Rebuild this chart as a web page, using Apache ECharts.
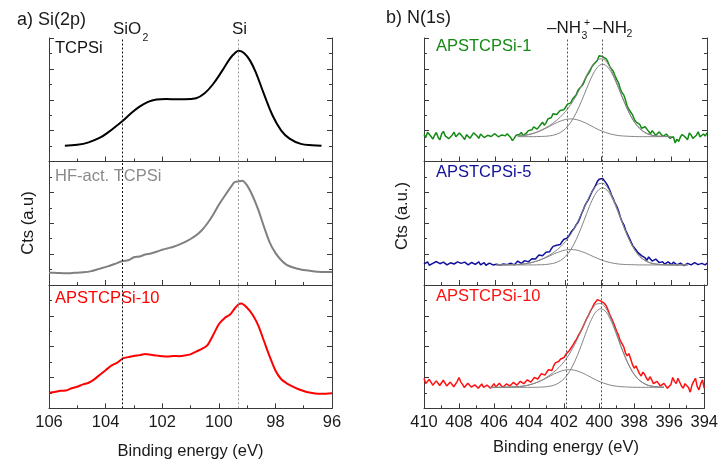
<!DOCTYPE html>
<html>
<head>
<meta charset="utf-8">
<script src="https://cdn.jsdelivr.net/npm/echarts@6/dist/echarts.min.js"></script>
<style>html,body{margin:0;padding:0;background:#fff;}#c{width:721px;height:461px;}</style>
</head>
<body>
<div id="c"></div>
<script>
// ---------- Si(2p) panel (left), counts in arbitrary units ----------
const siTcpsiEnergy = [105.44,105.0,104.6,104.2,103.9,103.6,103.39,103.1,102.8,102.5,102.2,101.85,101.5,101.2,100.8,100.5,100.2,99.9,99.6,99.4,99.29,99.1,98.9,98.7,98.4,98.1,97.8,97.5,97.1,96.7,96.37];
const siTcpsiCounts = [1.02,1.08,1.24,1.54,1.90,2.33,2.64,3.12,3.55,3.86,4.01,4.05,4.03,4.03,4.10,4.42,5.02,5.82,6.68,7.08,7.18,7.02,6.55,5.80,4.35,2.98,2.02,1.48,1.14,1.05,1.02];

const siHfEnergy = [106.0,105.7,105.4,105.1,104.8,104.5,104.2,103.9,103.6,103.39,103.2,103.0,102.8,102.6,102.4,102.2,102.0,101.8,101.6,101.4,101.2,101.0,100.8,100.6,100.4,100.2,100.0,99.8,99.6,99.45,99.3,99.17,99.0,98.8,98.6,98.4,98.2,98.0,97.8,97.6,97.4,97.1,96.8,96.5,96.2,96.0];
const siHfCounts = [0.80,0.78,0.76,0.79,0.82,0.90,1.06,1.22,1.42,1.55,1.60,1.80,1.85,1.97,2.04,2.15,2.28,2.38,2.48,2.62,2.78,2.98,3.22,3.55,4.00,4.55,5.20,5.75,6.28,6.66,6.72,6.76,6.45,5.75,4.85,3.75,2.75,2.08,1.62,1.30,1.15,1.01,0.93,0.86,0.84,0.84];

const siAp10Energy = [106.0,105.8,105.6,105.4,105.2,105.0,104.8,104.6,104.4,104.2,104.0,103.8,103.6,103.39,103.2,103.0,102.8,102.6,102.4,102.2,102.0,101.8,101.6,101.4,101.2,101.0,100.8,100.6,100.4,100.2,100.0,99.8,99.6,99.45,99.3,99.2,99.0,98.8,98.6,98.4,98.2,98.0,97.8,97.6,97.4,97.2,97.0,96.8,96.6,96.4,96.2,96.0];
const siAp10Counts = [1.01,1.06,1.14,1.15,1.30,1.40,1.55,1.66,1.88,2.18,2.47,2.77,2.95,3.24,3.32,3.40,3.45,3.52,3.47,3.42,3.38,3.36,3.40,3.38,3.42,3.50,3.68,3.85,4.10,4.75,5.45,5.85,6.08,6.45,6.75,6.80,6.52,6.05,5.35,4.35,3.35,2.45,1.90,1.62,1.42,1.25,1.12,1.02,0.96,0.94,0.94,0.97];

const siRefLines = [103.4, 99.3];   // SiO2, Si
const siLabels = ['TCPSi', 'HF-act. TCPSi', 'APSTCPSi-10'];

// ---------- N(1s) panel (right) ----------
const nDataStart = 410.0, nDataStep = -0.1;   // measured spectra sampled every 0.1 eV (410 -> 394)
const n1Counts = [
1.75,1.55,1.90,1.95,1.62,1.45,1.70,1.88,1.55,1.40,
1.80,1.95,1.66,1.70,1.48,1.40,1.72,1.90,1.60,1.52,
1.85,1.92,1.58,1.42,1.74,1.82,1.50,1.60,1.86,1.98,
1.65,1.50,1.78,1.88,1.55,1.45,1.70,1.80,1.62,1.55,
1.80,1.90,1.60,1.48,1.72,1.62,1.66,1.80,1.74,1.55,
1.35,1.50,1.70,1.62,1.75,1.88,1.68,1.60,1.85,2.00,
1.95,2.05,2.25,2.30,2.10,2.20,2.40,2.55,2.35,2.50,
2.75,2.70,2.85,3.10,3.20,3.05,3.05,3.30,3.40,3.35,
3.50,3.70,3.65,3.80,4.05,4.15,4.30,4.60,4.75,4.80,
5.00,5.30,5.55,5.70,5.90,6.15,6.30,6.35,6.55,6.85,
6.95,6.80,6.70,6.65,6.45,6.15,6.00,5.85,5.55,5.30,
5.10,4.70,4.45,4.30,3.95,3.55,3.35,3.25,3.00,2.70,
2.55,2.60,2.40,2.15,2.05,2.25,2.15,1.95,1.80,2.00,
1.90,1.70,1.65,1.92,1.80,1.62,1.55,1.78,1.70,1.50,
1.45,1.60,1.20,1.45,1.30,1.60,1.75,1.85,1.55,1.40,
1.85,1.72,1.50,1.58,1.70,1.92,1.60,1.48,1.78,1.65,
1.85];
const n5Counts = [
1.35,1.45,1.50,1.28,1.30,1.40,1.42,1.52,1.55,1.38,
1.32,1.48,1.45,1.30,1.28,1.44,1.50,1.36,1.38,1.50,
1.56,1.40,1.30,1.48,1.44,1.30,1.35,1.46,1.52,1.34,
1.40,1.50,1.30,1.36,1.45,1.28,1.33,1.42,1.38,1.30,
1.30,1.34,1.32,1.30,1.28,1.36,1.40,1.32,1.35,1.42,
1.45,1.30,1.38,1.55,1.52,1.40,1.42,1.58,1.60,1.50,
1.55,1.70,1.75,1.68,1.80,1.95,2.00,1.90,1.95,2.12,
2.20,2.15,2.35,2.50,2.45,2.58,2.70,2.62,2.80,2.95,
3.00,3.05,3.20,3.40,3.55,3.68,3.90,4.05,4.30,4.60,
4.85,5.15,5.35,5.55,5.80,6.05,6.25,6.45,6.70,6.85,
6.75,6.90,6.80,6.60,6.40,6.15,5.85,5.60,5.30,5.10,
4.80,4.40,4.10,3.90,3.55,3.30,3.05,2.80,2.55,2.45,
2.25,2.10,2.05,1.90,1.85,1.75,1.60,1.82,1.70,1.55,
1.50,1.68,1.60,1.45,1.42,1.50,1.35,1.30,1.50,1.40,
1.32,1.48,1.45,1.30,1.30,1.42,1.38,1.25,1.28,1.40,
1.42,1.30,1.30,1.45,1.45,1.32,1.25,1.40,1.38,1.30,
1.42];
const n10Counts = [
1.95,1.60,1.70,1.88,1.80,1.50,1.55,1.78,1.75,1.48,
1.60,1.82,1.72,1.45,1.50,1.70,1.68,1.40,1.45,1.75,
2.00,1.70,1.55,1.35,1.40,1.62,1.60,1.38,1.30,1.52,
1.55,1.30,1.45,1.58,1.35,1.25,1.50,1.62,1.30,1.42,
1.60,1.38,1.45,1.62,1.55,1.35,1.40,1.58,1.60,1.45,
1.50,1.68,1.72,1.50,1.55,1.75,1.80,1.60,1.65,1.85,
1.90,1.70,1.80,2.00,2.05,1.90,2.00,2.25,2.30,2.15,
2.25,2.50,2.60,2.45,2.75,2.95,2.85,3.05,3.20,3.10,
3.30,3.50,3.60,3.75,3.85,4.10,4.30,4.45,4.70,4.90,
5.10,5.35,5.60,5.85,6.05,6.30,6.50,6.75,6.85,7.05,
7.10,6.95,6.90,6.80,6.65,6.40,6.10,5.85,5.60,5.30,
5.00,4.75,4.40,4.30,4.00,3.60,3.40,3.55,3.20,2.85,
2.60,2.75,2.50,2.25,2.10,2.35,2.20,1.95,1.80,2.05,
1.85,1.60,1.55,1.75,1.65,1.45,1.40,1.62,1.50,1.30,
1.20,1.55,2.00,1.75,1.60,1.95,1.85,1.45,1.30,1.60,
1.70,1.35,1.05,1.50,1.75,1.95,1.40,1.20,1.60,1.85,
1.30];

// peak-fit components (gaussian components on a flat background), sampled every 0.3 eV
const nFitStep = -0.3;
const n1FitStart = 404.7;
const n1FitMain  = [1.61,1.61,1.61,1.61,1.62,1.63,1.66,1.73,1.87,2.13,2.54,3.14,3.90,4.74,5.53,6.10,6.31,6.10,5.53,4.74,3.90,3.14,2.54,2.13,1.87,1.73,1.66,1.63,1.62,1.61];
const n1FitMinor = [1.65,1.68,1.74,1.83,1.95,2.10,2.28,2.46,2.61,2.72,2.76,2.72,2.61,2.46,2.28,2.10,1.95,1.83,1.74,1.68,1.65,1.63,1.62,1.61,1.61,1.61,1.61,1.61,1.61,1.61];
const n1FitSum   = [1.65,1.68,1.74,1.83,1.96,2.13,2.33,2.58,2.87,3.24,3.69,4.25,4.90,5.59,6.19,6.59,6.65,6.32,5.66,4.81,3.93,3.16,2.55,2.14,1.87,1.73,1.66,1.63,1.62,1.61];
const n5FitStart = 405.9;
const n5FitMain  = [1.30,1.30,1.30,1.30,1.30,1.30,1.30,1.30,1.31,1.32,1.36,1.43,1.58,1.85,2.29,2.93,3.74,4.64,5.48,6.08,6.30,6.08,5.48,4.64,3.74,2.93,2.29,1.85,1.58,1.43,1.36,1.32,1.31,1.30,1.30,1.30,1.30];
const n5FitMinor = [1.30,1.30,1.31,1.32,1.33,1.36,1.41,1.49,1.59,1.73,1.88,2.04,2.17,2.27,2.30,2.27,2.17,2.04,1.88,1.73,1.59,1.49,1.41,1.36,1.33,1.32,1.31,1.30,1.30,1.30,1.30,1.30,1.30,1.30,1.30,1.30,1.30];
const n5FitSum   = [1.30,1.30,1.31,1.32,1.33,1.36,1.41,1.49,1.60,1.75,1.94,2.17,2.45,2.82,3.29,3.89,4.61,5.37,6.06,6.51,6.59,6.27,5.59,4.70,3.77,2.94,2.30,1.85,1.58,1.43,1.36,1.32,1.31,1.30,1.30,1.30,1.30];
const n10FitStart = 406.2;
const n10FitMain  = [1.36,1.36,1.36,1.36,1.36,1.36,1.36,1.36,1.36,1.37,1.38,1.42,1.49,1.65,1.92,2.37,3.02,3.84,4.76,5.62,6.24,6.46,6.24,5.62,4.76,3.84,3.02,2.37,1.92,1.65,1.49,1.42,1.38,1.37];
const n10FitMinor = [1.36,1.36,1.36,1.37,1.38,1.40,1.43,1.49,1.58,1.70,1.85,2.03,2.21,2.36,2.47,2.51,2.47,2.36,2.21,2.03,1.85,1.70,1.58,1.49,1.43,1.40,1.38,1.37,1.36,1.36,1.36,1.36,1.36,1.36];
const n10FitSum   = [1.36,1.36,1.36,1.37,1.38,1.40,1.43,1.49,1.58,1.71,1.87,2.09,2.34,2.65,3.03,3.52,4.13,4.84,5.61,6.29,6.73,6.80,6.46,5.75,4.83,3.88,3.04,2.38,1.92,1.65,1.49,1.42,1.38,1.37];

const nRefLines = [401.9, 399.9];  // -NH3+, -NH2
const nLabels = ['APSTCPSi-1', 'APSTCPSi-5', 'APSTCPSi-10'];

// ---------- build ----------
const FONT = '"Liberation Sans", Arial, Helvetica, sans-serif';
function pairs(xs, ys) { return ys.map((y, i) => [xs[i], y]); }
function gridPairs(start, step, ys) { return ys.map((y, i) => [+(start + step * i).toFixed(2), y]); }

const AX = '#3a3a3a';
const lefts = [49, 424];
const tops = [38, 161.5, 285];
const heights = [123.5, 123.5, 123.3];
const grids = [], xAxes = [], yAxes = [], series = [];

for (let c = 0; c < 2; c++) {
  for (let r = 0; r < 3; r++) {
    const gi = c * 3 + r;
    grids.push({ left: lefts[c], top: tops[r], width: 283, height: heights[r] });
    xAxes.push({
      type: 'value', gridIndex: gi, inverse: true,
      min: c === 0 ? 96 : 394, max: c === 0 ? 106 : 410, interval: 2,
      axisLine: { show: true, onZero: false, lineStyle: { color: AX, width: 1 } },
      axisTick: { show: true, inside: true, length: 5, lineStyle: { color: AX } },
      minorTick: { show: true, splitNumber: 2, length: 3, lineStyle: { color: AX } },
      splitLine: { show: false },
      axisLabel: { show: r === 2, margin: 6, fontSize: 16.5, fontFamily: FONT, color: '#1a1a1a' }
    });
    for (const pos of ['left', 'right']) {
      yAxes.push({
        type: 'value', gridIndex: gi, position: pos, min: 0, max: 8, interval: 2,
        axisLine: { show: true, onZero: false, lineStyle: { color: AX, width: 1 } },
        axisTick: { show: true, inside: true, length: 5, lineStyle: { color: AX } },
        minorTick: { show: true, splitNumber: 2, length: 3, lineStyle: { color: AX } },
        splitLine: { show: false }, axisLabel: { show: false }
      });
    }
  }
}

function refMarks(vals, colors) {
  return {
    silent: true, symbol: ['none', 'none'], label: { show: false },
    lineStyle: { type: [2, 2], width: 1 },
    emphasis: { disabled: true },
    data: vals.map((v, i) => ({ xAxis: v, lineStyle: { color: colors[i], type: [2, 2], width: 1 } }))
  };
}

const siSets = [
  { d: pairs(siTcpsiEnergy, siTcpsiCounts), color: '#000000', smooth: 0.4 },
  { d: pairs(siHfEnergy, siHfCounts), color: '#808080', smooth: 0.2 },
  { d: pairs(siAp10Energy, siAp10Counts), color: '#ff0000', smooth: 0.2 }
];
siSets.forEach((s, r) => {
  series.push({
    type: 'line', xAxisIndex: r, yAxisIndex: r * 2, data: s.d, showSymbol: false, smooth: s.smooth,
    lineStyle: { color: s.color, width: 2 }, itemStyle: { color: s.color },
    markLine: refMarks(siRefLines, ['#111111', '#9a9a9a'])
  });
});

const nSets = [
  { d: n1Counts, color: '#138a13', fs: n1FitStart, fm: n1FitMain, fn: n1FitMinor, ft: n1FitSum },
  { d: n5Counts, color: '#10109c', fs: n5FitStart, fm: n5FitMain, fn: n5FitMinor, ft: n5FitSum },
  { d: n10Counts, color: '#ff1010', fs: n10FitStart, fm: n10FitMain, fn: n10FitMinor, ft: n10FitSum }
];
nSets.forEach((s, r) => {
  const gi = 3 + r;
  series.push({
    type: 'line', xAxisIndex: gi, yAxisIndex: gi * 2, data: gridPairs(nDataStart, nDataStep, s.d),
    showSymbol: false, lineStyle: { color: s.color, width: 1.5 }, itemStyle: { color: s.color },
    markLine: refMarks(nRefLines, ['#555555', '#555555'])
  });
  [s.fm, s.fn, s.ft].forEach(arr => {
    series.push({
      type: 'line', xAxisIndex: gi, yAxisIndex: gi * 2, data: gridPairs(s.fs, nFitStep, arr),
      showSymbol: false, smooth: 0.3, z: 3,
      lineStyle: { color: '#858585', width: 1 }, itemStyle: { color: '#858585' }
    });
  });
});

function txt(x, y, text, size, color, extra) {
  return {
    type: 'text', x: x, y: y, silent: true,
    style: Object.assign({ text: text, fontSize: size, fontFamily: FONT, fill: color || '#1a1a1a', verticalAlign: 'middle', align: 'left' }, extra || {})
  };
}

const graphics = [
  txt(17, 20, 'a) Si(2p)', 18),
  txt(386, 18, 'b) N(1s)', 18),
  txt(113, 29, 'SiO', 17),
  txt(142.5, 38, '2', 10.5),
  txt(239.5, 29, 'Si', 17, null, { align: 'center' }),
  txt(547, 28.5, '\u2013NH', 17),
  txt(581.5, 36, '3', 10.5),
  txt(584, 23, '+', 10.5),
  txt(593, 28.5, '\u2013NH', 17),
  txt(626.5, 34.5, '2', 10.5),
  txt(55, 48.5, siLabels[0], 16.5, '#111111'),
  txt(55, 176, siLabels[1], 16.5, '#8a8a8a'),
  txt(55, 298, siLabels[2], 16.5, '#ff0000'),
  txt(436, 46.5, nLabels[0], 16.5, '#138a13'),
  txt(436, 172, nLabels[1], 16.5, '#10109c'),
  txt(436, 296, nLabels[2], 16.5, '#ff1010'),
  txt(190.5, 451.5, 'Binding energy (eV)', 16.5, null, { align: 'center' }),
  txt(566, 447, 'Binding energy (eV)', 16.5, null, { align: 'center' }),
  { type: 'text', x: 28, y: 223, rotation: Math.PI / 2, silent: true,
    style: { text: 'Cts (a.u)', fontSize: 16.5, fontFamily: FONT, fill: '#1a1a1a', align: 'center', verticalAlign: 'middle' } },
  { type: 'text', x: 402, y: 216, rotation: Math.PI / 2, silent: true,
    style: { text: 'Cts (a.u.)', fontSize: 16.5, fontFamily: FONT, fill: '#1a1a1a', align: 'center', verticalAlign: 'middle' } }
];

const chart = echarts.init(document.getElementById('c'), null, { renderer: 'canvas' });
chart.setOption({
  animation: false,
  backgroundColor: '#ffffff',
  grid: grids, xAxis: xAxes, yAxis: yAxes, series: series, graphic: graphics
});
</script>
</body>
</html>
